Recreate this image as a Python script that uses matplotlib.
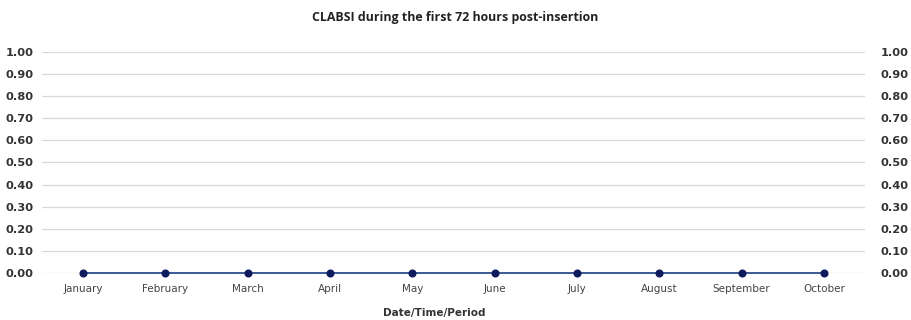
import matplotlib
matplotlib.use("Agg")
import matplotlib.pyplot as plt

months = ['January', 'February', 'March', 'April', 'May', 'June',
          'July', 'August', 'September', 'October']
clabsi = [0, 0, 0, 0, 0, 0, 0, 0, 0, 0]
yticks = [0.0, 0.1, 0.2, 0.3, 0.4, 0.5, 0.6, 0.7, 0.8, 0.9, 1.0]

fig = plt.figure(figsize=(9.11, 3.20), dpi=100)
ax = fig.add_axes([0.046, 0.147, 0.9035, 0.6905])

x = range(len(months))
ax.plot(x, clabsi, color='#3A5A96', lw=1.4, marker='o', markersize=4.8,
        markerfacecolor='#0E1A5C', markeredgecolor='#0E1A5C', zorder=3,
        clip_on=False)

ax.set_xlim(-0.5, len(months) - 0.5)
ax.set_ylim(0, 1)
ax.set_yticks(yticks)
ax.set_yticklabels([f'{v:.2f}' for v in yticks])
ax.set_xticks(list(x))
ax.set_xticklabels(months, fontsize=7.5, color='#444444')
ax.grid(axis='y', color='#D9D9D9', lw=0.9)
ax.set_axisbelow(True)
for s in ax.spines.values():
    s.set_visible(False)
ax.tick_params(axis='both', length=0)
ax.tick_params(axis='y', labelsize=8.2, labelcolor='#333333', pad=6)
ax.tick_params(axis='x', pad=8)
for t in ax.get_yticklabels():
    t.set_fontweight('bold')

ax2 = ax.twinx()
ax2.set_ylim(0, 1)
ax2.set_yticks(yticks)
ax2.set_yticklabels([f'{v:.2f}' for v in yticks])
for s in ax2.spines.values():
    s.set_visible(False)
ax2.tick_params(axis='y', length=0, labelsize=8.2, labelcolor='#333333', pad=11.5)
for t in ax2.get_yticklabels():
    t.set_fontweight('bold')

fig.text(0.5, 0.945, 'CLABSI during the first 72 hours post-insertion',
         ha='center', va='center', fontsize=8.9, fontweight='bold',
         color='#222222', family='Open Sans')
fig.text(0.477, 0.022, 'Date/Time/Period', ha='center', va='center',
         fontsize=7.5, fontweight='bold', color='#333333')

fig.savefig('out.png', dpi=100)
